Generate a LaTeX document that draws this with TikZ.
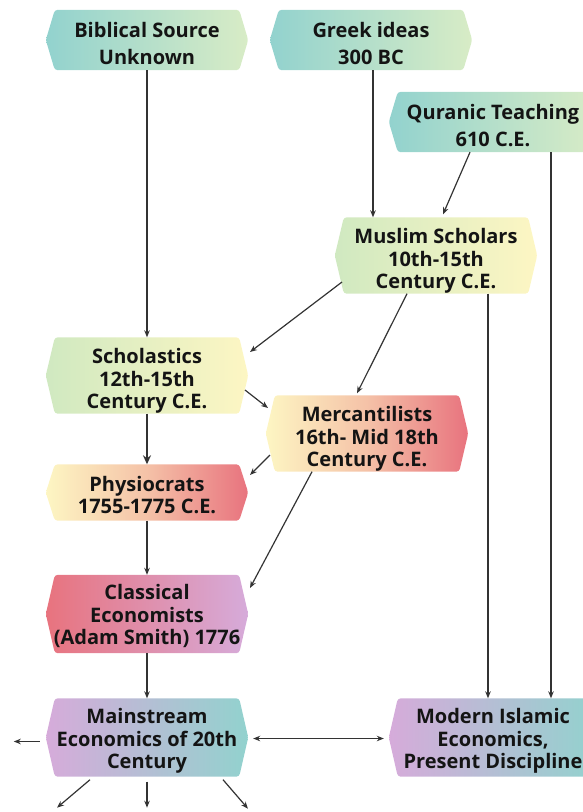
\documentclass[tikz,border=0pt]{standalone}
\usepackage{fontspec}
\setmainfont{Open Sans}
\usetikzlibrary{calc,backgrounds,arrows.meta}
\definecolor{tealA}{HTML}{92D2CE}
\definecolor{greenA}{HTML}{D8ECC6}
\definecolor{greenB}{HTML}{D0E9C1}
\definecolor{yellowA}{HTML}{FDF6C3}
\definecolor{redA}{HTML}{E8737E}
\definecolor{lavA}{HTML}{D6ABDA}
\definecolor{inkA}{HTML}{141414}
\definecolor{lineA}{HTML}{333333}
\newcommand{\lbl}[2][12pt]{\raisebox{0pt}[\height][\dimexpr\depth-#1\relax]{\begin{tabular}{@{}c@{}}#2\end{tabular}}}
\tikzset{
  hx/.style={shape=rectangle, minimum width=202pt, minimum height=60pt, inner sep=0pt,
    text=inkA, font=\fontsize{20}{22.5}\selectfont\bfseries},
  hxtop/.style={hx, font=\fontsize{20}{27}\selectfont\bfseries},
  tall/.style={minimum height=76pt},
  arr/.style={draw=lineA, line width=1.2pt, -{Stealth[length=7pt,width=5.5pt]}},
  thick arr/.style={arr, line width=2.8pt, -{Stealth[length=9pt,width=8pt]}},
  dbl/.style={arr, {Stealth[length=7pt,width=5.5pt]}-{Stealth[length=7pt,width=5.5pt]}},
}
\newcommand{\hexpath}[1]{(#1.west) -- ([xshift=9pt]#1.north west) -- ([xshift=-9pt]#1.north east)
    -- (#1.east) -- ([xshift=-9pt]#1.south east) -- ([xshift=9pt]#1.south west) -- cycle}
\newcommand{\hexbg}[3]{%
  \shade[left color=#2, right color=#3, rounded corners=3pt] \hexpath{#1};}
\begin{document}
\begin{tikzpicture}[x=1pt,y=-1pt]
\useasboundingbox (0,0) rectangle (582,812);
\clip (0,0) rectangle (582,812);
\node[hxtop] (bib) at (147,40) {\lbl[11pt]{Biblical Source\\Unknown}};
\node[hxtop] (grk) at (371,40) {\lbl[11pt]{Greek ideas\\300 BC}};
\node[hxtop,minimum width=208pt] (qur) at (493,122) {\lbl[11pt]{Quranic Teaching\\610 C.E.}};
\node[hx,tall] (mus) at (436,255.5) {\lbl{Muslim Scholars\\10th-15th\\Century C.E.}};
\node[hx,tall] (sch) at (147,375.5) {\lbl{Scholastics\\12th-15th\\Century C.E.}};
\node[hx,tall] (mer) at (367,433.5) {\lbl{Mercantilists\\16th- Mid 18th\\Century C.E.}};
\node[hx,minimum height=56pt] (phy) at (147,492.5) {\lbl[11pt]{Physiocrats\\1755-1775 C.E.}};
\node[hx,minimum height=78pt] (cla) at (147,614) {\lbl[7pt]{Classical\\Economists\\(Adam Smith) 1776}};
\node[hx,minimum height=78pt] (main) at (147,737.5) {\lbl[8pt]{Mainstream\\Economics of 20th\\Century}};
\node[hx,minimum width=208pt,minimum height=78pt] (mod) at (493,737.5) {\lbl[8pt]{Modern Islamic\\Economics,\\Present Discipline}};
\begin{scope}[on background layer]
  \hexbg{bib}{tealA}{greenA}
  \hexbg{grk}{tealA}{greenA}
  \hexbg{qur}{tealA}{greenA}
  \hexbg{mus}{greenB}{yellowA}
  \hexbg{sch}{greenB}{yellowA}
  \shade[left color=yellowA, right color=redA, middle color=yellowA!60!redA, rounded corners=3pt] \hexpath{phy};
  \shade[left color=yellowA, right color=redA, middle color=yellowA!60!redA, rounded corners=3pt] \hexpath{mer};
  \hexbg{cla}{redA}{lavA}
  \hexbg{main}{lavA}{tealA}
  \hexbg{mod}{lavA}{tealA}
\end{scope}
% connectors
\draw[arr] (bib) -- (sch);
\draw[arr] ([xshift=2pt]grk.south) -- ([xshift=2pt]grk.south |- mus.north);
\draw[arr] ($(qur.south)+(-23,0)$) -- ($(mus.north)+(7,-3)$);
\draw[arr] ($(qur.south)+(58,0)$) coordinate (q1) -- (q1 |- mod.north);
\draw[arr] ($(mus.south)+(52,0)$) coordinate (m1) -- (m1 |- mod.north);
\draw[arr] ($(mus.center)+(-94,26.5)$) -- ($(sch.center)+(103,-23.5)$);
\draw[arr] ($(mus.south)+(-29,0)$) -- ($(mer.north)+(-10,-2)$);
\draw[arr] ($(sch.center)+(98,14.5)$) -- ($(mer.center)+(-99,-25.5)$);
\draw[thick arr] (sch) -- (phy);
\draw[arr] ($(mer.center)+(-97,21.5)$) -- ($(phy.center)+(103,-17.5)$);
\draw[arr] ($(mer.south)+(-55,0)$) -- ($(cla.center)+(103,-26)$);
\draw[arr] (phy) -- (cla);
\draw[arr] (cla) -- (main);
\draw[dbl] ($(main.east)+(5,1)$) -- ($(mod.west)+(-5,1)$);
\draw[arr] ($(main.west)+(-6,4)$) -- ($(main.west)+(-32,4)$);
\draw[arr] ($(main.south)+(-57,3)$) -- ($(main.south)+(-90,31)$);
\draw[arr] ($(main.south)+(0,5)$) -- ($(main.south)+(0,31)$);
\draw[arr] ($(main.south)+(76,3)$) -- ($(main.south)+(101,32)$);
\end{tikzpicture}
\end{document}
